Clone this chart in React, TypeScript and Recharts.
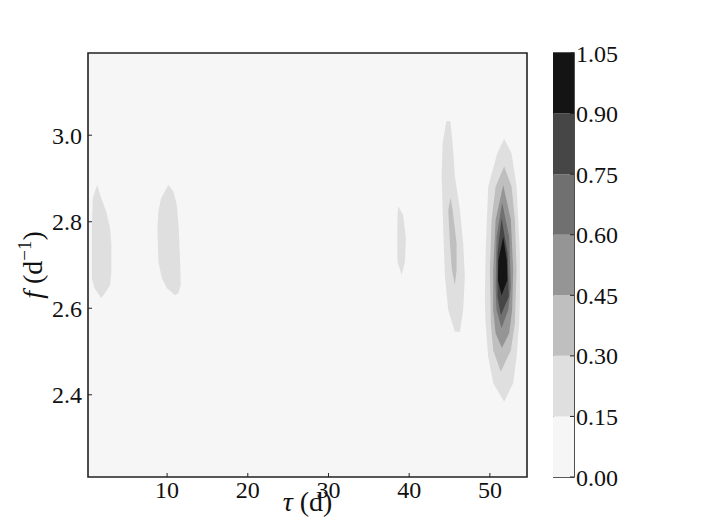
import { ScatterChart, Scatter, XAxis, YAxis, CartesianGrid, ReferenceArea, Curve, BarChart, Bar } from 'recharts'

const tauTicks = [10, 20, 30, 40, 50]
const fTicks = [2.4, 2.6, 2.8, 3.0]
const tauDomain = [0.2, 54.6]
const fDomain = [2.21, 3.19]

// contour levels and the grey of each band between them
const levels = [0, 0.15, 0.3, 0.45, 0.6, 0.75, 0.9, 1.05]
const greys = ['#f6f6f6', '#dfdfdf', '#bfbfbf', '#959595', '#707070', '#464646', '#141414']

// contour outlines as [tau, f] pairs
const peak1 = [[1.33, 2.885], [1.83, 2.855], [2.45, 2.824], [2.94, 2.785], [3.1, 2.747], [3.1, 2.686], [2.94, 2.654], [2.57, 2.643], [2.16, 2.631], [1.83, 2.624], [1.0, 2.647], [0.67, 2.67], [0.67, 2.785], [0.8, 2.855]]
const peak10 = [[10.16, 2.885], [10.78, 2.87], [11.2, 2.839], [11.45, 2.785], [11.61, 2.708], [11.7, 2.654], [11.4, 2.635], [10.99, 2.63], [9.96, 2.647], [9.34, 2.67], [8.92, 2.708], [8.8, 2.785], [8.92, 2.824], [9.26, 2.855]]
const peak39 = [[38.64, 2.836], [39.26, 2.815], [39.6, 2.761], [39.47, 2.707], [39.07, 2.677], [38.55, 2.707], [38.52, 2.761], [38.55, 2.815]]
const peak45a = [[44.6, 3.032], [45.1, 3.032], [45.38, 2.981], [45.67, 2.904], [46.29, 2.827], [46.69, 2.75], [46.9, 2.673], [46.69, 2.596], [46.29, 2.546], [45.67, 2.546], [44.84, 2.596], [44.43, 2.673], [44.21, 2.788], [44.02, 2.904], [44.14, 2.981]]
const peak45b = [[45.13, 2.856], [45.38, 2.827], [45.87, 2.75], [45.87, 2.688], [45.67, 2.654], [45.3, 2.688], [45.05, 2.75], [44.84, 2.827]]
const peak52a = [[51.77, 2.992], [52.69, 2.958], [53.31, 2.881], [53.72, 2.727], [53.72, 2.619], [53.63, 2.565], [53.31, 2.488], [52.89, 2.427], [51.77, 2.384], [50.41, 2.427], [49.79, 2.488], [49.47, 2.565], [49.38, 2.619], [49.47, 2.727], [49.79, 2.881], [50.9, 2.958]]
const peak52b = [[51.77, 2.928], [52.69, 2.881], [53.1, 2.804], [53.31, 2.688], [53.1, 2.565], [52.6, 2.503], [51.36, 2.453], [50.41, 2.503], [50.12, 2.565], [50.0, 2.688], [50.21, 2.804], [50.71, 2.881]]
const peak52c = [[51.65, 2.885], [52.6, 2.804], [52.89, 2.688], [52.76, 2.596], [52.39, 2.542], [51.49, 2.508], [50.71, 2.542], [50.41, 2.596], [50.41, 2.688], [50.71, 2.804]]
const peak52d = [[51.52, 2.844], [52.39, 2.765], [52.6, 2.65], [52.27, 2.596], [51.45, 2.554], [50.83, 2.596], [50.71, 2.65], [50.83, 2.765]]
const peak52e = [[51.45, 2.808], [52.19, 2.727], [52.35, 2.627], [51.36, 2.584], [50.95, 2.627], [50.95, 2.727]]
const peak52f = [[51.65, 2.765], [52.1, 2.711], [52.17, 2.665], [51.45, 2.63], [50.99, 2.665], [51.05, 2.711]]

// band index (into greys) for each outline, drawn in this order
const contours = [
    { band: 1, pts: peak1 },
    { band: 1, pts: peak10 },
    { band: 1, pts: peak39 },
    { band: 1, pts: peak45a },
    { band: 2, pts: peak45b },
    { band: 1, pts: peak52a },
    { band: 2, pts: peak52b },
    { band: 3, pts: peak52c },
    { band: 4, pts: peak52d },
    { band: 5, pts: peak52e },
    { band: 6, pts: peak52f },
]

const font = "'Liberation Serif', 'DejaVu Serif', serif"
const tickStyle = { fontSize: 24, fill: '#111', fontFamily: font }

const fillShape = (color: string) => (props: any) => (
    <Curve points={props.points} type="linearClosed" fill={color} stroke="none" />
)
const noDot = () => <g />

const FLabel = (props: any) => {
    const vb = props.viewBox
    const cx = vb.x + 14
    const cy = vb.y + vb.height / 2
    return (
        <text x={cx} y={cy} transform={`rotate(-90 ${cx} ${cy})`} textAnchor="middle" fontSize={28} fontFamily={font} fill="#111">
            <tspan fontStyle="italic">f</tspan>
            <tspan> (d</tspan>
            <tspan dy={-11} fontSize={19}>−1</tspan>
            <tspan dy={11}>)</tspan>
        </text>
    )
}

const TauLabel = (props: any) => {
    const vb = props.viewBox
    return (
        <text x={vb.x + vb.width / 2} y={vb.y + 34} textAnchor="middle" fontSize={28} fontFamily={font} fill="#111">
            <tspan fontStyle="italic">τ</tspan>
            <tspan> (d)</tspan>
        </text>
    )
}

const bandRow: any = { name: 'cb' }
levels.slice(1).forEach((v, i) => {
    bandRow['b' + i] = +(v - levels[i]).toFixed(2)
})
const colorbarData = [bandRow]

export default function App() {
    return (
        <div style={{ position: 'absolute', left: 0, top: 0, width: 706, height: 530, background: '#fff' }}>
            <div style={{ position: 'absolute', left: 0, top: 0 }}>
                <ScatterChart width={706} height={530} margin={{ top: 53, right: 179, bottom: 23, left: 28 }}>
                    <CartesianGrid horizontal={false} vertical={false} fill={greys[0]} />
                    <XAxis
                        type="number"
                        dataKey="tau"
                        domain={tauDomain}
                        ticks={tauTicks}
                        allowDataOverflow
                        height={30}
                        axisLine={false}
                        tickSize={-4}
                        tickMargin={8}
                        tick={tickStyle}
                        tickLine={{ stroke: '#222' }}
                        label={TauLabel}
                    />
                    <XAxis xAxisId="top" orientation="top" type="number" domain={tauDomain} ticks={tauTicks} allowDataOverflow height={0} axisLine={false} tick={false} tickSize={-4} tickLine={{ stroke: '#222' }} />
                    <YAxis
                        type="number"
                        dataKey="f"
                        domain={fDomain}
                        ticks={fTicks}
                        allowDataOverflow
                        width={60}
                        axisLine={false}
                        tickSize={-4}
                        tickMargin={10}
                        tick={tickStyle}
                        tickLine={{ stroke: '#222' }}
                        tickFormatter={(v: number) => v.toFixed(1)}
                        label={FLabel}
                    />
                    <YAxis yAxisId="right" orientation="right" type="number" domain={fDomain} ticks={fTicks} allowDataOverflow width={0} axisLine={false} tick={false} tickSize={-4} tickLine={{ stroke: '#222' }} />
                    {contours.map((c, i) => (
                        <Scatter
                            key={i}
                            data={c.pts.map(([tau, f]) => ({ tau, f }))}
                            line={fillShape(greys[c.band])}
                            shape={noDot}
                            isAnimationActive={false}
                        />
                    ))}
                    <ReferenceArea x1={tauDomain[0]} x2={tauDomain[1]} y1={fDomain[0]} y2={fDomain[1]} fill="none" stroke="#222" strokeWidth={1.6} />
                </ScatterChart>
            </div>
            <div style={{ position: 'absolute', left: 553, top: 0 }}>
                <BarChart width={130} height={530} data={colorbarData} margin={{ top: 53, right: 49, bottom: 53, left: 0 }} barCategoryGap={0} barGap={0}>
                    <XAxis dataKey="name" type="category" hide />
                    <YAxis
                        orientation="right"
                        type="number"
                        domain={[0, 1.05]}
                        ticks={levels}
                        allowDataOverflow
                        width={60}
                        axisLine={false}
                        tickSize={-4}
                        tickMargin={6}
                        tick={tickStyle}
                        tickLine={{ stroke: '#222' }}
                        tickFormatter={(v: number) => v.toFixed(2)}
                    />
                    {greys.map((g, i) => (
                        <Bar key={i} dataKey={'b' + i} stackId="cb" fill={g} isAnimationActive={false} />
                    ))}
                    <ReferenceArea x1="cb" x2="cb" y1={0} y2={1.05} fill="none" stroke="#222" strokeWidth={1.6} />
                </BarChart>
            </div>
        </div>
    )
}
